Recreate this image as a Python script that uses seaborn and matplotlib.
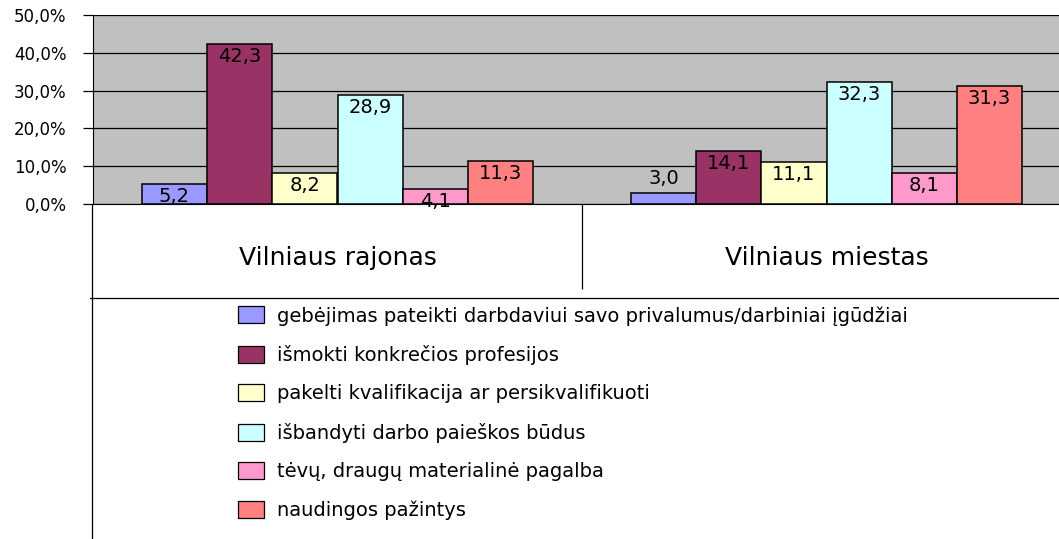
# Darbo paieskos pagalba - Vilniaus rajonas / miestas
import pandas as pd
import matplotlib
matplotlib.use('Agg')
import matplotlib.pyplot as plt
from matplotlib.patches import Patch
from matplotlib.lines import Line2D
import seaborn as sns

sns.set_style('ticks')
plt.rcParams['font.family'] = ['DejaVu Sans']
plt.rcParams['text.color'] = 'black'
plt.rcParams['xtick.color'] = 'black'
plt.rcParams['ytick.color'] = 'black'

# Data
vietos = ['Vilniaus rajonas', 'Vilniaus miestas']
priezastys = ['gebėjimas pateikti darbdaviui savo privalumus/darbiniai įgūdžiai',
              'išmokti konkrečios profesijos',
              'pakelti kvalifikacija ar persikvalifikuoti',
              'išbandyti darbo paieškos būdus',
              'tėvų, draugų materialinė pagalba',
              'naudingos pažintys']
rajonas = [5.2, 42.3, 8.2, 28.9, 4.1, 11.3]
miestas = [3.0, 14.1, 11.1, 32.3, 8.1, 31.3]
y_ticks = [0, 10, 20, 30, 40, 50]
y_labels = ['0,0%', '10,0%', '20,0%', '30,0%', '40,0%', '50,0%']
spalvos = ['#9999FF', '#993366', '#FFFFCC', '#CCFFFF', '#FF99CC', '#FF8080']

df = pd.DataFrame({
    'vieta': [vietos[0]] * 6 + [vietos[1]] * 6,
    'priezastis': priezastys * 2,
    'reiksme': rajonas + miestas,
})

fig = plt.figure(figsize=(10.59, 5.39), dpi=100)
W, H = 1059, 539
ax = fig.add_axes([93 / W, 1 - 204 / H, (1071 - 93) / W, (204 - 15) / H])
ax.set_facecolor('#C0C0C0')

sns.barplot(data=df, x='vieta', y='reiksme', hue='priezastis', hue_order=priezastys,
            palette=spalvos, saturation=1, edgecolor='black', linewidth=1.1, width=0.8,
            legend=False, ax=ax, zorder=3)

# value labels
for cont, vals in zip(ax.containers, zip(rajonas, miestas)):
    for bar, v in zip(cont, vals):
        xc = bar.get_x() + bar.get_width() / 2
        txt = f'{v:.1f}'.replace('.', ',')
        if v < 4:
            ax.annotate(txt, (xc, v), xytext=(0, 3), textcoords='offset points',
                        ha='center', va='bottom', fontsize=14, color='black', zorder=4)
        else:
            ax.annotate(txt, (xc, v), xytext=(0, -9), textcoords='offset points',
                        ha='center', va='center', fontsize=14, color='black', zorder=4)

ax.set_ylim(0, 50)
ax.set_yticks(y_ticks, y_labels)
ax.yaxis.grid(True, color='black', linewidth=0.9)
ax.set_axisbelow(True)
ax.tick_params(axis='y', length=7, width=0.9, labelsize=12, pad=12)
ax.tick_params(axis='x', which='major', length=0, labelsize=18, pad=30)
ax.set_xticks([0.5], minor=True)
ax.tick_params(axis='x', which='minor', length=61, width=0.9, color='black')
ax.set_xlabel('')
ax.set_ylabel('')
for s in ['top', 'right']:
    ax.spines[s].set_visible(False)
ax.spines['left'].set_color('black')
ax.spines['bottom'].set_color('black')

# legend box
fig.add_artist(Line2D([90 / W, 1], [1 - 298 / H, 1 - 298 / H], color='black', lw=0.9))
fig.add_artist(Line2D([92 / W, 92 / W], [1 - 204 / H, 0], color='black', lw=0.9))

handles = [Patch(facecolor=c, edgecolor='black', linewidth=0.9) for c in spalvos]
fig.legend(handles, priezastys, loc='upper left', bbox_to_anchor=(238 / W, 1 - 306 / H),
           frameon=False, fontsize=14, handlelength=1.35, handleheight=0.95,
           handletextpad=0.65, labelspacing=1.0, borderpad=0, borderaxespad=0)

plt.savefig('out.png', dpi=100)
